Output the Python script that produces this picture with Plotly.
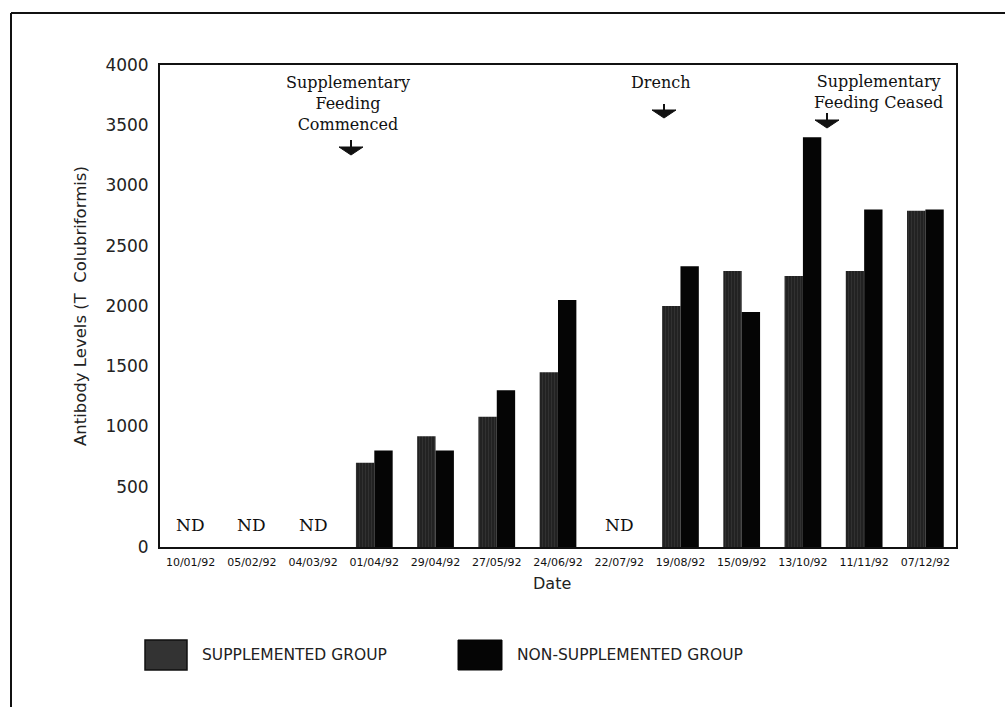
import plotly.graph_objects as go

# Sampling dates and antibody levels (None = not detected)
dates = ["10/01/92", "05/02/92", "04/03/92", "01/04/92", "29/04/92", "27/05/92",
         "24/06/92", "22/07/92", "19/08/92", "15/09/92", "13/10/92", "11/11/92", "07/12/92"]
supplemented = [None, None, None, 700, 920, 1080, 1450, None, 2000, 2290, 2250, 2290, 2790]
non_supplemented = [None, None, None, 800, 800, 1300, 2050, None, 2330, 1950, 3400, 2800, 2800]
nd_level = 180
y_ticks = [0, 500, 1000, 1500, 2000, 2500, 3000, 3500, 4000]

W, H = 1005, 707
L, R, T, B = 160, 49, 65, 160
pw, ph = W - L - R, H - T - B


def px(x):
    return (x - L) / pw


def py(y):
    return (H - B - y) / ph


serif = "DejaVu Serif"
sans = "DejaVu Sans, Arial, sans-serif"
ink = "#111"

fig = go.Figure()
fig.add_trace(go.Bar(
    x=dates, y=supplemented, name="SUPPLEMENTED GROUP",
    marker=dict(color="#2a2a2a", line=dict(width=0),
                pattern=dict(shape="|", size=3, solidity=0.12,
                             fgcolor="#777777", bgcolor="#222222")),
))
fig.add_trace(go.Bar(
    x=dates, y=non_supplemented, name="NON-SUPPLEMENTED GROUP",
    marker=dict(color="#050505", line=dict(width=0)),
))

annotations = []
# "ND" markers for dates without a detectable level
for d, s, n in zip(dates, supplemented, non_supplemented):
    if s is None and n is None:
        annotations.append(dict(x=d, y=nd_level, xref="x", yref="y", text="ND",
                                showarrow=False, font=dict(family=serif, size=17, color=ink)))

# Event labels
annotations.append(dict(x=2.57, y=3950, xref="x", yref="y", yanchor="top",
                        text="Supplementary<br>Feeding<br>Commenced", showarrow=False,
                        font=dict(family=serif, size=16, color=ink)))
annotations.append(dict(x=7.68, y=3950, xref="x", yref="y", yanchor="top",
                        text="Drench", showarrow=False,
                        font=dict(family=serif, size=16, color=ink)))
annotations.append(dict(x=11.24, y=3960, xref="x", yref="y", yanchor="top",
                        text="Supplementary<br>Feeding Ceased", showarrow=False,
                        font=dict(family=serif, size=16, color=ink)))

# Axis titles
annotations.append(dict(x=px(80), y=0.5, xref="paper", yref="paper",
                        xanchor="center", yanchor="middle",
                        text="Antibody Levels (T  Colubriformis)", textangle=-90,
                        showarrow=False, font=dict(family=sans, size=16.5, color="#222")))
annotations.append(dict(x=px(552), y=py(583), xref="paper", yref="paper",
                        xanchor="center", yanchor="middle", text="Date",
                        showarrow=False, font=dict(family=sans, size=16, color="#222")))

# Legend labels
annotations.append(dict(x=px(200), y=py(655), xref="paper", yref="paper",
                        xanchor="left", yanchor="middle",
                        text="SUPPLEMENTED GROUP", showarrow=False,
                        font=dict(family=sans, size=15.5, color="#222")))
annotations.append(dict(x=px(515), y=py(655), xref="paper", yref="paper",
                        xanchor="left", yanchor="middle",
                        text="NON-SUPPLEMENTED GROUP", showarrow=False,
                        font=dict(family=sans, size=15.5, color="#222")))

shapes = [
    dict(type="rect", xref="paper", yref="paper", x0=px(145), x1=px(187), y0=py(670), y1=py(640),
         fillcolor="#333333", line=dict(color="#111", width=1.5)),
    dict(type="rect", xref="paper", yref="paper", x0=px(458), x1=px(502), y0=py(670), y1=py(640),
         fillcolor="#050505", line=dict(color="#050505", width=1)),
    # outer frame (top and left edges)
    dict(type="line", xref="paper", yref="paper", x0=px(11), x1=px(1005), y0=py(13), y1=py(13),
         line=dict(color=ink, width=2)),
    dict(type="line", xref="paper", yref="paper", x0=px(11), x1=px(11), y0=py(13), y1=py(707),
         line=dict(color=ink, width=2)),
]

# Down arrows under the event labels: (centre x, stem top, head top, head bottom) in pixels
for cx, s0, h0, h1 in [(351, 140, 147, 155), (664, 104, 110, 118), (827, 113, 120, 128)]:
    shapes.append(dict(type="line", xref="paper", yref="paper",
                       x0=px(cx), x1=px(cx), y0=py(s0), y1=py(h0 + 1),
                       line=dict(color=ink, width=2)))
    shapes.append(dict(type="path", xref="paper", yref="paper",
                       path=f"M {px(cx - 12)} {py(h0)} L {px(cx + 12)} {py(h0)} "
                            f"L {px(cx)} {py(h1)} Z",
                       fillcolor=ink, line=dict(color=ink, width=1)))

fig.update_layout(
    width=W, height=H,
    margin=dict(l=L, r=R, t=T, b=B, pad=0),
    paper_bgcolor="white", plot_bgcolor="white",
    barmode="group", bargap=0.4, bargroupgap=0,
    showlegend=False,
    annotations=annotations, shapes=shapes,
    font=dict(family=sans, color="#222"),
)
fig.update_xaxes(showline=True, linecolor=ink, linewidth=1.8, mirror=True,
                 showgrid=False, ticks="outside", ticklen=4, tickcolor="white", tickangle=0,
                 tickfont=dict(family=sans, size=11, color=ink))
fig.update_yaxes(range=[0, 4000], tickvals=y_ticks, showline=True, linecolor=ink,
                 linewidth=1.8, mirror=True, showgrid=False, zeroline=False,
                 ticks="outside", ticklen=6, tickcolor="white",
                 tickfont=dict(family=sans, size=17, color="#222"))

fig.write_html("out.html")
